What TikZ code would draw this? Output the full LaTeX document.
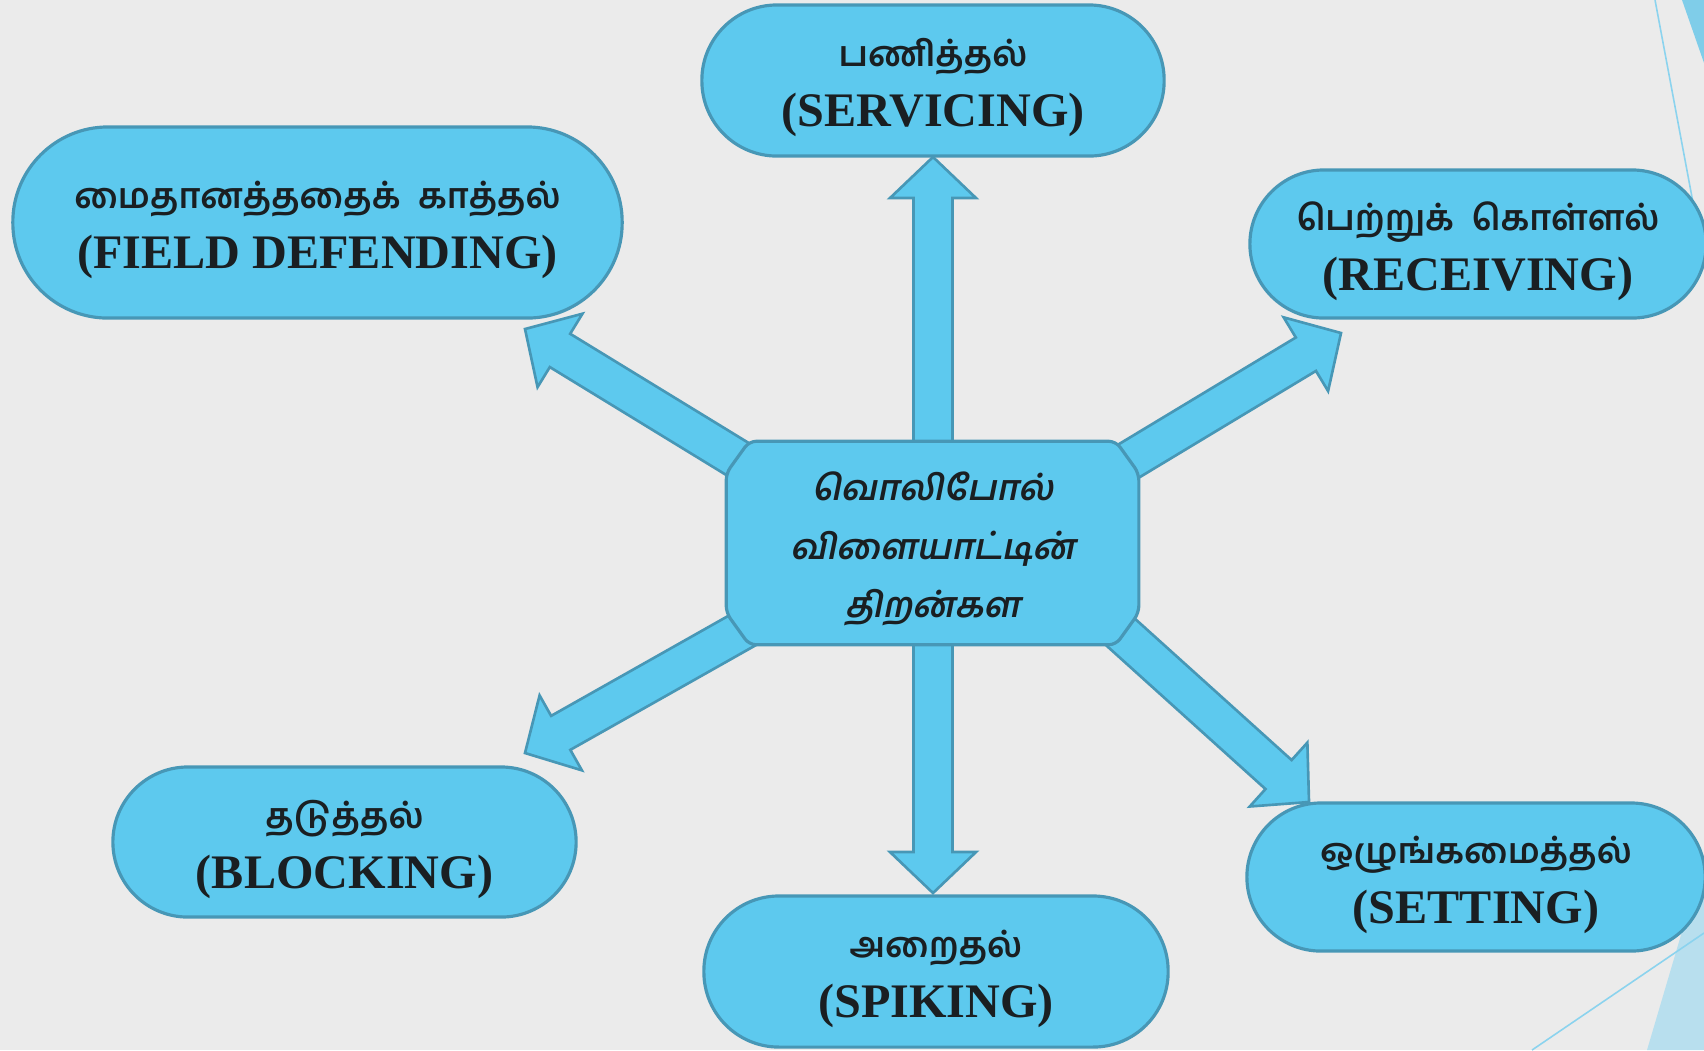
\documentclass[tikz,border=0pt]{standalone}
\usepackage{fontspec}
\setmainfont{Liberation Serif}
\newfontfamily\tamilfont[Script=Tamil]{Hind Madurai}
\newfontfamily\tamilslant[Script=Tamil,FakeSlant=0.2]{Hind Madurai}
\usetikzlibrary{calc}

\definecolor{bgGrey}{HTML}{EBEBEB}
\definecolor{skillFill}{HTML}{5DC9EE}
\definecolor{skillLine}{HTML}{4797B6}
\definecolor{inkDark}{HTML}{1A1F22}
\definecolor{decoMid}{HTML}{7FCDE9}
\definecolor{decoLight}{HTML}{B8DFEE}
\definecolor{decoLine}{HTML}{8BD3EE}

\pgfdeclarelayer{back}
\pgfsetlayers{back,main}

\newcommand{\tam}[1]{{\tamilfont\fontsize{10}{17}\selectfont\rule{0pt}{12.2pt}#1}}
\newcommand{\blockarrow}[2]{%
  \coordinate (hb) at ($(#2)!0.41cm!(#1)$);%
  \draw[skillarrow] ($(#1)!0.195cm!90:(#2)$) -- ($(hb)!0.195cm!90:(#2)$)
    -- ($(hb)!0.43cm!90:(#2)$) -- (#2) -- ($(hb)!0.43cm!-90:(#2)$)
    -- ($(hb)!0.195cm!-90:(#2)$) -- ($(#1)!0.195cm!-90:(#2)$) -- cycle;%
}

\begin{document}
\begin{tikzpicture}[x=0.01cm,y=-0.01cm,
    skill/.style={draw=skillLine,fill=skillFill,line width=0.9pt,text=inkDark,
      align=center,inner sep=0pt,font=\bfseries\fontsize{13.7}{17}\selectfont},
    hubbox/.style={inner sep=0pt,text=inkDark,align=center,
      minimum width=4.11cm,minimum height=2.02cm,
      font=\tamilslant\bfseries\fontsize{10}{16.5}\selectfont},
    hubshape/.style={draw=skillLine,fill=skillFill,line width=0.9pt,
      rounded corners=2pt},
    skillarrow/.style={draw=skillLine,fill=skillFill,line width=0.75pt,
      line join=miter}]
  \useasboundingbox (0,0) rectangle (1704,1050);
  %
  \node[hubbox] (hub) at (932.5,543)
    {\rule{0pt}{11.5pt}வொலிபோல்\\விளையாட்டின்\\திறன்கள};
  \node[skill,minimum width=4.62cm,minimum height=1.51cm,rounded corners=0.75cm]
    (serv) at (933,80.5) {\tam{பணித்தல்}\\(SERVICING)};
  \node[skill,minimum width=6.09cm,minimum height=1.91cm,rounded corners=0.95cm]
    (field) at (317.5,222.5) {\tam{மைதானத்ததைக்\enspace காத்தல்}\\(FIELD DEFENDING)};
  \node[skill,minimum width=4.56cm,minimum height=1.48cm,rounded corners=0.74cm]
    (recv) at (1478,244) {\tam{பெற்றுக்\enspace கொள்ளல்}\\(RECEIVING)};
  \node[skill,minimum width=4.63cm,minimum height=1.50cm,rounded corners=0.75cm]
    (block) at (344.5,842) {\tam{தடுத்தல்}\\(BLOCKING)};
  \node[skill,minimum width=4.64cm,minimum height=1.51cm,rounded corners=0.75cm]
    (spike) at (936,971.5) {\tam{அறைதல்}\\(SPIKING)};
  \node[skill,minimum width=4.58cm,minimum height=1.48cm,rounded corners=0.74cm]
    (set) at (1476,877) {\tam{ஒழுங்கமைத்தல்}\\(SETTING)};
  %
  \begin{pgfonlayer}{back}
    \fill[bgGrey] (0,0) rectangle (1704,1050);
    % corner decoration
    \fill[decoMid] (1682,0) -- (1704,0) -- (1704,63) -- cycle;
    \fill[decoLight] (1647,1050) -- (1704,857) -- (1704,1050) -- cycle;
    \draw[decoLine,line width=0.45pt] (1655,0) -- (1700,240);
    \draw[decoLine,line width=0.45pt] (1532,1050) -- (1704,933);
    %
    \coordinate (hubN) at (933,543);
    \coordinate (hubS) at (933,543);
    \coordinate (hubNW) at (798,496);
    \coordinate (hubNE) at (1059,503);
    \coordinate (hubSW) at (812,591);
    \coordinate (hubSE) at (1064,581);
    \coordinate (tipServ) at (933,157);
    \coordinate (tipSpike) at (933,893);
    \coordinate (tipField) at (525,329);
    \coordinate (tipRecv) at (1341,333);
    \coordinate (tipBlock) at (525,753);
    \coordinate (tipSet) at (1309,802);
    \foreach \src/\dst in {hubN/tipServ,hubS/tipSpike,hubNW/tipField,
      hubNE/tipRecv,hubSW/tipBlock,hubSE/tipSet}
    {\blockarrow{\src}{\dst}}
    %
    \draw[hubshape] ($(hub.north west)+(23,0)$) -- ($(hub.north east)+(-23,0)$)
      -- ($(hub.north east)+(0,32)$) -- ($(hub.south east)+(0,-32)$)
      -- ($(hub.south east)+(-23,0)$) -- ($(hub.south west)+(23,0)$)
      -- ($(hub.south west)+(0,-32)$) -- ($(hub.north west)+(0,32)$) -- cycle;
  \end{pgfonlayer}
\end{tikzpicture}
\end{document}
